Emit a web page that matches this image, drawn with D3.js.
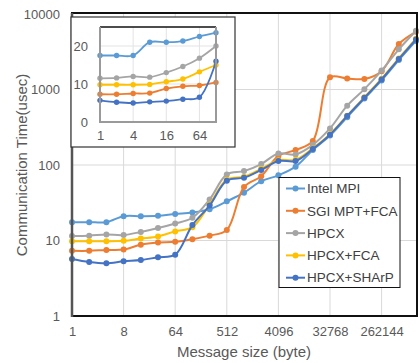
<!DOCTYPE html>
<html>
<head>
<meta charset="utf-8">
<script src="https://cdn.jsdelivr.net/npm/d3@7"></script>
<style>
html,body{margin:0;padding:0;background:#fff;}
svg{display:block;font-family:"Liberation Sans",Arial,sans-serif;}
</style>
</head>
<body>
<svg id="chart" width="419" height="363"></svg>
<script>
const sizes = [1,2,4,8,16,32,64,128,256,512,1024,2048,4096,8192,16384,32768,65536,131072,262144,524288,1048576];
const seriesNames = ["Intel MPI","SGI MPT+FCA","HPCX","HPCX+FCA","HPCX+SHArP"];
const intelMPI  = [17.5,17.5,17.5,21,21,21.3,22.5,23.5,26,33,43,61,73,95,158,245,430,760,1320,2450,4400];
const sgiMptFca = [7.3,7.3,7.5,7.6,8.8,9.4,9.6,10.4,11.6,13.8,51,71,132,158,208,1450,1400,1380,1750,4000,5800];
const hpcx      = [11.5,11.6,12.0,11.8,13.0,14.6,16.8,20,35,75,83,103,142,138,185,305,610,1010,1780,3400,6000];
const hpcxFca   = [9.8,9.8,9.8,9.9,10.6,11.3,13.2,15,30,64,70,89,116,117,166,256,450,790,1390,2580,4700];
const hpcxSharp = [5.7,5.2,5.0,5.3,5.5,6.0,6.5,16,29,62,68,86,113,113,163,252,445,775,1360,2530,4600];
const xTicks = [1,8,64,512,4096,32768,262144];
const yTicks = [1,10,100,1000,10000];
const insetXTicks = [1,4,16,64];
const insetYTicks = [0,10,20];
const colors = ["#5B9BD5","#ED7D31","#A5A5A5","#FFC000","#4472C4"];

const allSeries = [intelMPI,sgiMptFca,hpcx,hpcxFca,hpcxSharp].map((v,i)=>({name:seriesNames[i],color:colors[i],values:v}));

const svg = d3.select("#chart");
const L=72,R=416,T=14,B=316;
const x = d3.scaleLog().base(2).domain([1,1048576]).range([L,R]);
const y = d3.scaleLog().domain([1,10000]).range([B,T]);
const tickColor="#595959";

// gridlines
const g = svg.append("g");
g.selectAll(".hg").data(yTicks.filter(d=>d>1&&d<10000)).enter().append("line")
 .attr("x1",L).attr("x2",R).attr("y1",d=>y(d)).attr("y2",d=>y(d)).attr("stroke","#d9d9d9").attr("stroke-width",1);
g.selectAll(".vg").data(xTicks.filter(d=>d>1)).enter().append("line")
 .attr("y1",T).attr("y2",B).attr("x1",d=>x(d)).attr("x2",d=>x(d)).attr("stroke","#d9d9d9").attr("stroke-width",1);

// axes (labels only)
const xAxis = d3.axisBottom(x).tickValues(xTicks).tickFormat(d3.format("d")).tickSize(0).tickPadding(0);
const xa = svg.append("g").attr("transform",`translate(0,${B+11})`).call(xAxis);
xa.select(".domain").remove();
xa.selectAll("text").attr("fill",tickColor).attr("font-size","13px").attr("font-family","Liberation Sans, Arial, sans-serif").attr("dy","0.71em");

const yAxis = d3.axisLeft(y).tickValues(yTicks).tickFormat(d3.format("d")).tickSize(0).tickPadding(0);
const ya = svg.append("g").attr("transform",`translate(${L-12},0)`).call(yAxis);
ya.select(".domain").remove();
ya.selectAll("text").attr("fill",tickColor).attr("font-size","13px").attr("font-family","Liberation Sans, Arial, sans-serif");

// lines
const line = d3.line().x((d,i)=>x(sizes[i])).y(d=>y(d)).curve(d3.curveCatmullRom.alpha(0.5));
const sg = svg.append("g");
allSeries.forEach(s=>{
  sg.append("path").attr("d",line(s.values)).attr("fill","none").attr("stroke",s.color).attr("stroke-width",2);
  sg.selectAll(null).data(s.values).enter().append("circle")
    .attr("cx",(d,i)=>x(sizes[i])).attr("cy",d=>y(d)).attr("r",3).attr("fill",s.color);
});

// frame
svg.append("rect").attr("x",L).attr("y",T-1).attr("width",R-L+1).attr("height",B-T+1)
  .attr("fill","none").attr("stroke","#111").attr("stroke-width",2);
svg.append("line").attr("x1",L).attr("x2",L).attr("y1",T-1).attr("y2",B+1).attr("stroke","#555").attr("stroke-width",2.5);

// axis titles
svg.append("text").attr("x",(L+R)/2).attr("y",357).attr("text-anchor","middle")
  .attr("font-size","15px").attr("fill",tickColor).text("Message size (byte)");
svg.append("text").attr("transform",`translate(27,${(T+B)/2}) rotate(-90)`).attr("text-anchor","middle")
  .attr("font-size","15px").attr("fill",tickColor).text("Communication Time(usec)");

// inset
const ig = svg.append("g");
ig.append("rect").attr("x",71).attr("y",17).attr("width",164).attr("height",130).attr("fill","#fff").attr("stroke","#333").attr("stroke-width",1.2);
const iL=100,iR=216,iT=27,iB=122;
const ix = d3.scaleLog().base(2).domain([1,128]).range([iL,iR]);
const iy = d3.scaleLinear().domain([0,25]).range([iB,iT]);
ig.selectAll(".ivg").data(insetXTicks.filter(d=>d>1)).enter().append("line")
  .attr("x1",d=>ix(d)).attr("x2",d=>ix(d)).attr("y1",iT).attr("y2",iB).attr("stroke","#e3e3e3");
ig.selectAll(".ihg").data(insetYTicks.filter(d=>d>0)).enter().append("line")
  .attr("x1",iL).attr("x2",iR).attr("y1",d=>iy(d)).attr("y2",d=>iy(d)).attr("stroke","#e3e3e3");
const ixa = ig.append("g").attr("transform",`translate(0,${iB+9})`).call(d3.axisBottom(ix).tickValues(insetXTicks).tickFormat(d3.format("d")).tickSize(0).tickPadding(0));
ixa.select(".domain").remove();
ixa.selectAll("text").attr("fill",tickColor).attr("font-size","13px").attr("font-family","Liberation Sans, Arial, sans-serif").attr("dy","0.71em");
const iya = ig.append("g").attr("transform",`translate(${iL-12},0)`).call(d3.axisLeft(iy).tickValues(insetYTicks).tickSize(0).tickPadding(0));
iya.select(".domain").remove();
iya.selectAll("text").attr("fill",tickColor).attr("font-size","13px").attr("font-family","Liberation Sans, Arial, sans-serif");
const iline = d3.line().x((d,i)=>ix(sizes[i])).y(d=>iy(d)).curve(d3.curveCatmullRom.alpha(0.5));
allSeries.forEach(s=>{
  const v = s.values.slice(0,8);
  ig.append("path").attr("d",iline(v)).attr("fill","none").attr("stroke",s.color).attr("stroke-width",1.8);
  ig.selectAll(null).data(v).enter().append("circle")
    .attr("cx",(d,i)=>ix(sizes[i])).attr("cy",d=>iy(d)).attr("r",2.7).attr("fill",s.color);
});
ig.append("line").attr("x1",iL).attr("x2",iR).attr("y1",iT).attr("y2",iT).attr("stroke","#111").attr("stroke-width",1.5);
ig.append("path").attr("d",`M${iL},${iT}V${iB}H${iR}V${iT}`).attr("fill","none").attr("stroke","#9a9a9a").attr("stroke-width",2);

// legend
const lg = svg.append("g");
lg.append("rect").attr("x",279).attr("y",177.5).attr("width",121).attr("height",110).attr("fill","#fff").attr("stroke","#111").attr("stroke-width",1);
allSeries.forEach((s,i)=>{
  const yy = 188.5 + i*22.3;
  lg.append("line").attr("x1",286).attr("x2",305).attr("y1",yy).attr("y2",yy).attr("stroke",s.color).attr("stroke-width",2);
  lg.append("circle").attr("cx",295.5).attr("cy",yy).attr("r",3).attr("fill",s.color);
  lg.append("text").attr("x",307).attr("y",yy).attr("dy","0.35em").attr("font-size","13.5px").attr("fill","#404040").text(s.name);
});
</script>
</body>
</html>
